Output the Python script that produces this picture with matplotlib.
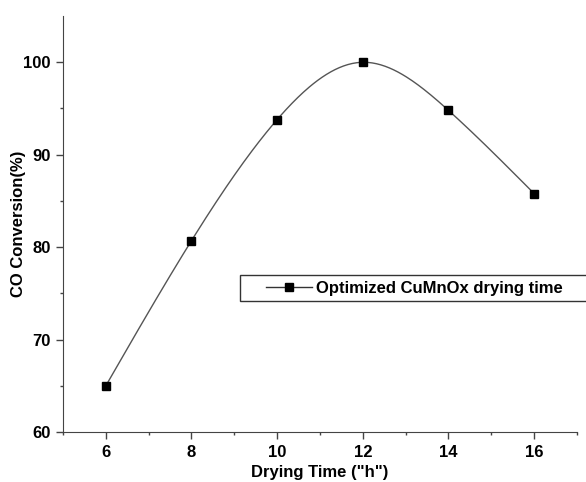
import numpy as np
import matplotlib.pyplot as plt
from matplotlib.legend_handler import HandlerLine2D

# Data
drying_time = [6, 8, 10, 12, 14, 16]
co_conversion = [65.0, 80.7, 93.8, 100.0, 94.8, 85.8]
x_ticks = [6, 8, 10, 12, 14, 16]
y_ticks = [60, 70, 80, 90, 100]


def natural_spline(x, y, n=300):
    # natural cubic spline through the points (like Origin's spline line)
    x = np.asarray(x, float)
    y = np.asarray(y, float)
    m = len(x)
    h = np.diff(x)
    A = np.zeros((m, m))
    b = np.zeros(m)
    A[0, 0] = A[-1, -1] = 1.0
    for i in range(1, m - 1):
        A[i, i - 1] = h[i - 1]
        A[i, i] = 2 * (h[i - 1] + h[i])
        A[i, i + 1] = h[i]
        b[i] = 6 * ((y[i + 1] - y[i]) / h[i] - (y[i] - y[i - 1]) / h[i - 1])
    M = np.linalg.solve(A, b)
    xs = np.linspace(x[0], x[-1], n)
    idx = np.clip(np.searchsorted(x, xs) - 1, 0, m - 2)
    x0, x1 = x[idx], x[idx + 1]
    hh = x1 - x0
    ys = (M[idx] * (x1 - xs) ** 3 / (6 * hh) + M[idx + 1] * (xs - x0) ** 3 / (6 * hh)
          + (y[idx] / hh - M[idx] * hh / 6) * (x1 - xs)
          + (y[idx + 1] / hh - M[idx + 1] * hh / 6) * (xs - x0))
    return xs, ys


plt.rcParams['font.family'] = ['Liberation Sans', 'DejaVu Sans']
plt.rcParams['font.weight'] = 'bold'

fig = plt.figure(figsize=(5.86, 4.82), dpi=100)
ax = fig.add_axes([0.1075, 0.1037, 0.877, 0.863])

xs, ys = natural_spline(drying_time, co_conversion)
ax.plot(xs, ys, color='#555555', linewidth=1.0)
ax.plot(drying_time, co_conversion, linestyle='none', marker='s',
        markersize=6, color='black')
# proxy for the legend (line + marker)
proxy, = ax.plot([], [], color='#333333', linewidth=1.0, marker='s', markersize=6,
                 markerfacecolor='black', markeredgecolor='black',
                 label='Optimized CuMnOx drying time')

ax.set_xlim(5, 17)
ax.set_ylim(60, 105)
ax.set_xticks(x_ticks)
ax.set_yticks(y_ticks)
ax.set_xticks(np.arange(5, 18, 1), minor=True)
ax.set_yticks(np.arange(65, 105, 10), minor=True)
ax.tick_params(axis='both', which='major', direction='out', length=5,
               width=1, labelsize=12, pad=4, color='#444444')
ax.tick_params(axis='both', which='minor', direction='out', length=2.5,
               width=1, color='#444444')
for lab in ax.get_xticklabels() + ax.get_yticklabels():
    lab.set_fontweight('bold')

ax.spines['top'].set_visible(False)
ax.spines['right'].set_visible(False)
ax.spines['left'].set_color('#444444')
ax.spines['bottom'].set_color('#444444')

ax.set_xlabel('Drying Time ("h")', fontsize=12, fontweight='bold', labelpad=4)
ax.set_ylabel('CO Conversion(%)', fontsize=12, fontweight='bold')
ax.yaxis.set_label_coords(-0.072, 0.5)

leg = ax.legend(loc='upper left', mode='expand',
                bbox_to_anchor=(240 / 586, 1 - 301 / 482, 400 / 586, 26 / 482),
                bbox_transform=fig.transFigure, fontsize=12, frameon=True,
                fancybox=False, edgecolor='black', handlelength=4.0,
                borderpad=0.33, borderaxespad=0, handletextpad=0.25,
                handler_map={proxy: HandlerLine2D(xpad=1.25)})
leg.get_frame().set_linewidth(1.0)
for t in leg.get_texts():
    t.set_fontweight('bold')

fig.savefig('out.png', dpi=100)
